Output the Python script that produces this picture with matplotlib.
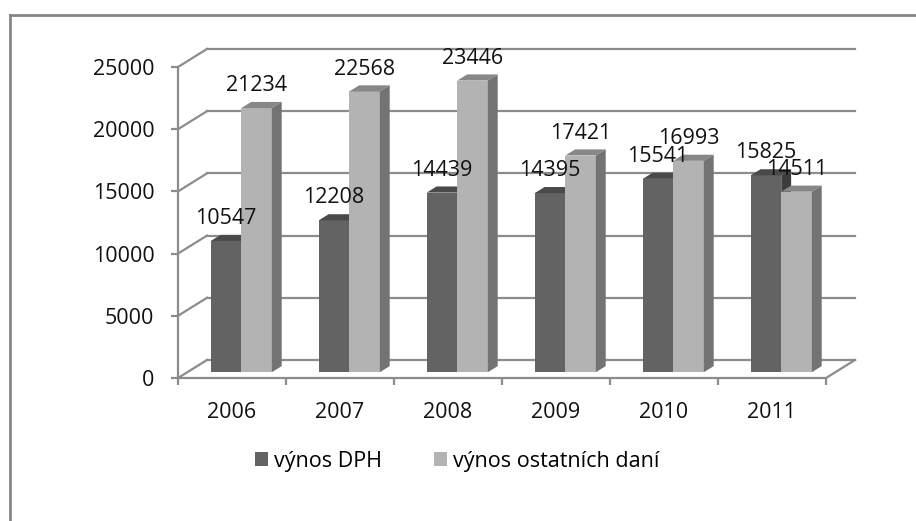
import matplotlib
matplotlib.use('Agg')
import matplotlib.pyplot as plt
from matplotlib.patches import Polygon, Patch, Rectangle

# data
years = ['2006', '2007', '2008', '2009', '2010', '2011']
vynos_dph = [10547, 12208, 14439, 14395, 15541, 15825]
vynos_ostatni = [21234, 22568, 23446, 17421, 16993, 14511]
series_names = ['výnos DPH', 'výnos ostatních daní']
y_ticks = [0, 5000, 10000, 15000, 20000, 25000]

plt.rcParams['font.family'] = ['Open Sans', 'DejaVu Sans']
FS = 15.5

# colours (front, top, side)
dark = ('#636363', '#4a4a4a', '#3d3d3d')
light = ('#b3b3b3', '#878787', '#737373')
grid_c = '#8c8c8c'

# oblique "3D" offsets in data units (full wall depth)
DX = 0.2685
DY = 1450.0
Z0, Z1 = 0.32, 0.66   # depth range of the bars
BW = 0.283            # width of one bar


def proj(x, y, z):
    return (x + z * DX, y + z * DY)


fig = plt.figure(figsize=(9.16, 5.21), dpi=100)
W, H = 916, 521
xmax, ymax = 6.3, 27000
px_x, px_y = 108.0, 62.2 / 5000
ax = fig.add_axes([178 / W, (H - 378) / H, xmax * px_x / W, ymax * px_y / H])
ax.set_xlim(0, xmax)
ax.set_ylim(0, ymax)
ax.patch.set_visible(False)

# outer chart frame (only top and left edges are inside the picture)
fig.add_artist(plt.Line2D([9.5 / W, 9.5 / W], [0, 1 - 15 / H], transform=fig.transFigure,
                          color='#868686', lw=2))
fig.add_artist(plt.Line2D([9.5 / W, 1], [1 - 15 / H, 1 - 15 / H], transform=fig.transFigure,
                          color='#868686', lw=2))

n = len(years)
# back wall gridlines and left wall diagonals
for v in y_ticks:
    x0, y0 = proj(0, v, 1)
    x1, y1 = proj(n, v, 1)
    ax.plot([x0, x1], [y0, y1], color=grid_c, lw=1.6, clip_on=False, zorder=1)
    ax.plot([0, x0], [v, y0], color=grid_c, lw=1.6, clip_on=False, zorder=1)
# right floor edge
xa, ya = proj(n, 0, 1)
ax.plot([n, xa], [0, ya], color=grid_c, lw=1.6, clip_on=False, zorder=1)

# bars
for i in range(n):
    for j, (vals, cols) in enumerate([(vynos_dph, dark), (vynos_ostatni, light)]):
        v = vals[i]
        xl = i + 0.5 - BW + j * BW
        xr = xl + BW
        fx, fy = proj(xl, 0, Z0)
        ax.bar(fx, v, width=BW, bottom=fy, align='edge', color=cols[0],
               lw=0, zorder=3 + i)
        # top face
        top = [proj(xl, v, Z0), proj(xr, v, Z0), proj(xr, v, Z1), proj(xl, v, Z1)]
        ax.add_patch(Polygon(top, closed=True, fc=cols[1], lw=0, zorder=3 + i))
        # side face
        side = [proj(xr, 0, Z0), proj(xr, v, Z0), proj(xr, v, Z1), proj(xr, 0, Z1)]
        ax.add_patch(Polygon(side, closed=True, fc=cols[2], lw=0, zorder=3 + i))
        # data label
        lx, ly = proj(xl + BW / 2, v, Z0)
        ax.annotate(str(v), (lx, ly), xytext=(0, 12.2), textcoords='offset points',
                    ha='center', va='baseline', fontsize=FS, color='#111111',
                    zorder=20)

# axes: front y axis and floor front edge
for s in ['top', 'right']:
    ax.spines[s].set_visible(False)
ax.spines['left'].set_bounds(0, 25000)
ax.spines['bottom'].set_bounds(0, n)
for s in ['left', 'bottom']:
    ax.spines[s].set_color(grid_c)
    ax.spines[s].set_linewidth(1.6)

ax.set_yticks(y_ticks)
ax.set_yticklabels([str(t) for t in y_ticks], fontsize=FS, color='#111111')
ax.tick_params(axis='y', length=5, width=1.6, color=grid_c, pad=12)

ax.set_xticks([i + 0.5 for i in range(n)])
ax.set_xticklabels(years, fontsize=FS, color='#111111')
ax.set_xticks(range(n + 1), minor=True)
ax.tick_params(axis='x', which='major', length=0, pad=17)
ax.tick_params(axis='x', which='minor', length=5, width=1.6, color=grid_c)

handles = [Patch(fc=dark[0], lw=0), Patch(fc=light[0], lw=0)]
fig.legend(handles, series_names, loc='center left', ncol=2,
           bbox_to_anchor=(246 / W, 1 - 461 / H), frameon=False, fontsize=FS,
           handlelength=0.6, handleheight=0.6, handletextpad=0.3,
           columnspacing=2.4, borderaxespad=0)

fig.savefig('out.png', dpi=100)
